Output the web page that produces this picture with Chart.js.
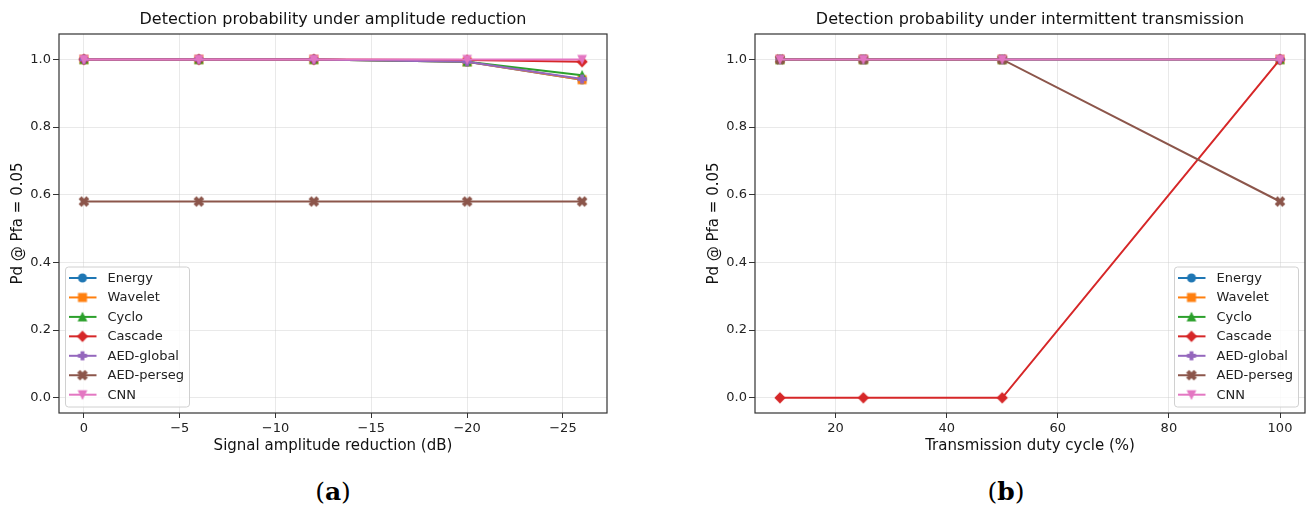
<!DOCTYPE html>
<html><head><meta charset="utf-8">
<script src="https://cdn.jsdelivr.net/npm/chart.js@4.4.1/dist/chart.umd.min.js"></script>
<style>
html,body{margin:0;padding:0;background:#fff;width:1308px;height:507px;overflow:hidden;position:relative;}
#c1{position:absolute;left:0;top:0;}
#c2{position:absolute;left:696px;top:0;}
.cap{position:absolute;top:477px;font-family:'DejaVu Serif','Liberation Serif',serif;font-size:25px;color:#000;transform:translateX(-50%);white-space:nowrap;}
</style></head><body>
<canvas id="c1" width="615" height="460"></canvas>
<canvas id="c2" width="620" height="460"></canvas>
<div class="cap" style="left:333px">(<b>a</b>)</div>
<div class="cap" style="left:1006px">(<b>b</b>)</div>
<script>
// ---- data ----
const seriesNames = ['Energy','Wavelet','Cyclo','Cascade','AED-global','AED-perseg','CNN'];
const seriesColors = ['#1f77b4','#ff7f0e','#2ca02c','#d62728','#9467bd','#8c564b','#e377c2'];
const seriesMarkers = ['o','s','^','D','P','X','v'];

// (a) amplitude reduction
const ampX = [0, -6, -12, -20, -26];
const ampEnergy    = [1.0, 1.0, 1.0, 0.993, 0.940];
const ampWavelet   = [1.0, 1.0, 1.0, 0.993, 0.940];
const ampCyclo     = [1.0, 1.0, 1.0, 0.993, 0.953];
const ampCascade   = [1.0, 1.0, 1.0, 0.998, 0.993];
const ampAEDglobal = [1.0, 1.0, 1.0, 0.993, 0.942];
const ampAEDperseg = [0.58, 0.58, 0.58, 0.58, 0.58];
const ampCNN       = [1.0, 1.0, 1.0, 1.0, 1.0];
const ampXTicks = [0, -5, -10, -15, -20, -25];

// (b) intermittent transmission
const dutyX = [10, 25, 50, 100];
const dutyEnergy    = [1.0, 1.0, 1.0, 1.0];
const dutyWavelet   = [1.0, 1.0, 1.0, 1.0];
const dutyCyclo     = [1.0, 1.0, 1.0, 1.0];
const dutyCascade   = [0.0, 0.0, 0.0, 1.0];
const dutyAEDglobal = [1.0, 1.0, 1.0, 1.0];
const dutyAEDperseg = [1.0, 1.0, 1.0, 0.58];
const dutyCNN       = [1.0, 1.0, 1.0, 1.0];
const dutyXTicks = [20, 40, 60, 80, 100];

const yTicks = [0.0, 0.2, 0.4, 0.6, 0.8, 1.0];

// ---- marker images ----
function makeMarker(shape, color){
  const c = document.createElement('canvas');
  c.width = 14; c.height = 14;
  const g = c.getContext('2d');
  g.translate(7,7);
  g.fillStyle = color; g.strokeStyle = color; g.lineWidth = 1.2; g.lineJoin='miter';
  g.beginPath();
  const s = 3.9;
  if (shape==='o'){ g.arc(0,0,s,0,Math.PI*2); }
  else if (shape==='s'){ g.rect(-s,-s,2*s,2*s); }
  else if (shape==='^'){ g.moveTo(0,-s); g.lineTo(s,s); g.lineTo(-s,s); g.closePath(); }
  else if (shape==='v'){ g.moveTo(0,s); g.lineTo(s,-s); g.lineTo(-s,-s); g.closePath(); }
  else if (shape==='D'){ const d=4.8; g.moveTo(0,-d); g.lineTo(d,0); g.lineTo(0,d); g.lineTo(-d,0); g.closePath(); }
  else if (shape==='P'){ const a=s, t=s/3;
    g.moveTo(-t,-a); g.lineTo(t,-a); g.lineTo(t,-t); g.lineTo(a,-t); g.lineTo(a,t); g.lineTo(t,t);
    g.lineTo(t,a); g.lineTo(-t,a); g.lineTo(-t,t); g.lineTo(-a,t); g.lineTo(-a,-t); g.lineTo(-t,-t); g.closePath(); }
  else if (shape==='X'){ g.rotate(Math.PI/4); const a=s*1.25, t=s/2.6;
    g.moveTo(-t,-a); g.lineTo(t,-a); g.lineTo(t,-t); g.lineTo(a,-t); g.lineTo(a,t); g.lineTo(t,t);
    g.lineTo(t,a); g.lineTo(-t,a); g.lineTo(-t,t); g.lineTo(-a,t); g.lineTo(-a,-t); g.lineTo(-t,-t); g.closePath(); }
  g.fill(); g.stroke();
  return c;
}
const markerImgs = seriesMarkers.map((m,i)=>makeMarker(m, seriesColors[i]));

// ---- plugins ----
const frameLegend = {
  id: 'frameLegend',
  afterDatasetsDraw(chart, args, opts){
    const ctx = chart.ctx, a = chart.chartArea;
    ctx.save();
    ctx.strokeStyle = '#333'; ctx.lineWidth = 1.2;
    ctx.strokeRect(a.left, a.top, a.right - a.left, a.bottom - a.top);
    // title centred on the plot area
    ctx.font = '16px "DejaVu Sans"'; ctx.fillStyle = '#111';
    ctx.textAlign = 'center'; ctx.textBaseline = 'middle';
    ctx.fillText(opts.title, (a.left + a.right) / 2, 20);
    // legend
    const w = 124, h = 140;
    const x0 = opts.side === 'right' ? a.right - 6.5 - w : a.left + 6.5;
    const y0 = a.bottom - 6 - h;
    ctx.beginPath();
    if (ctx.roundRect) ctx.roundRect(x0, y0, w, h, 3); else ctx.rect(x0, y0, w, h);
    ctx.fillStyle = 'rgba(255,255,255,0.8)'; ctx.fill();
    ctx.strokeStyle = '#d0d0d0'; ctx.lineWidth = 1; ctx.stroke();
    ctx.font = '13px "DejaVu Sans"'; ctx.textBaseline = 'middle'; ctx.textAlign = 'left';
    chart.data.datasets.forEach((ds, i) => {
      const y = y0 + 11 + i * 19.45;
      ctx.strokeStyle = ds.borderColor; ctx.lineWidth = 2;
      ctx.beginPath(); ctx.moveTo(x0 + 3.5, y); ctx.lineTo(x0 + 31, y); ctx.stroke();
      const img = ds.pointStyle;
      ctx.drawImage(img, x0 + 17 - img.width/2, y - img.height/2);
      ctx.fillStyle = '#222';
      ctx.fillText(ds.label, x0 + 42, y + 0.5);
    });
    ctx.restore();
  }
};

function buildDatasets(xs, arrays){
  return arrays.map((arr, i) => ({
    label: seriesNames[i],
    data: xs.map((x, j) => ({x: x, y: arr[j]})),
    borderColor: seriesColors[i],
    backgroundColor: seriesColors[i],
    borderWidth: 2,
    pointStyle: markerImgs[i],
    pointRadius: 5,
    pointHoverRadius: 5,
    tension: 0,
    order: arrays.length - i
  }));
}

const tickFont = {family: 'DejaVu Sans', size: 13};
const labelFont = {family: 'DejaVu Sans', size: 15, weight: 'normal'};

function makeChart(canvasId, title, xLabel, xs, arrays, xMin, xMax, xTicks, reverse, legendSide, xFmt, padRight){
  return new Chart(document.getElementById(canvasId), {
    type: 'line',
    data: { datasets: buildDatasets(xs, arrays) },
    plugins: [frameLegend],
    options: {
      responsive: false,
      animation: false,
      events: [],
      layout: { padding: { left: 0, right: padRight, top: 34, bottom: 0 } },
      plugins: {
        legend: { display: false },
        tooltip: { enabled: false },
        title: { display: false },
        frameLegend: { side: legendSide, title: title }
      },
      scales: {
        x: {
          type: 'linear', min: xMin, max: xMax, reverse: reverse,
          afterBuildTicks: s => { s.ticks = xTicks.map(v => ({value: v})); },
          afterFit: s => { s.height = 47; },
          grid: { color: 'rgba(200,200,200,0.4)', lineWidth: 1, tickColor: '#333', tickLength: 5, tickWidth: 1 },
          border: { display: false },
          ticks: { font: tickFont, color: '#222', padding: 3, maxRotation: 0, autoSkip: false, callback: xFmt },
          title: { display: true, text: xLabel, font: labelFont, color: '#111', padding: {top: 0, bottom: 5} }
        },
        y: {
          type: 'linear', min: -0.045, max: 1.075,
          afterBuildTicks: s => { s.ticks = yTicks.map(v => ({value: v})); },
          afterFit: s => { s.width = 59; },
          grid: { color: 'rgba(200,200,200,0.4)', lineWidth: 1, tickColor: '#333', tickLength: 6, tickWidth: 1 },
          border: { display: false },
          ticks: { font: tickFont, color: '#222', padding: 2, autoSkip: false, callback: v => Number(v).toFixed(1) },
          title: { display: true, text: 'Pd @ Pfa = 0.05', font: labelFont, color: '#111', padding: {top: 9, bottom: 0} }
        }
      }
    }
  });
}

makeChart('c1', 'Detection probability under amplitude reduction', 'Signal amplitude reduction (dB)',
  ampX, [ampEnergy, ampWavelet, ampCyclo, ampCascade, ampAEDglobal, ampAEDperseg, ampCNN],
  -27.3, 1.3, ampXTicks, true, 'left', v => v === 0 ? '0' : '\u2212' + Math.abs(v), 8);

makeChart('c2', 'Detection probability under intermittent transmission', 'Transmission duty cycle (%)',
  dutyX, [dutyEnergy, dutyWavelet, dutyCyclo, dutyCascade, dutyAEDglobal, dutyAEDperseg, dutyCNN],
  5.5, 104.5, dutyXTicks, false, 'right', v => String(v), 11);
</script>
</body></html>
